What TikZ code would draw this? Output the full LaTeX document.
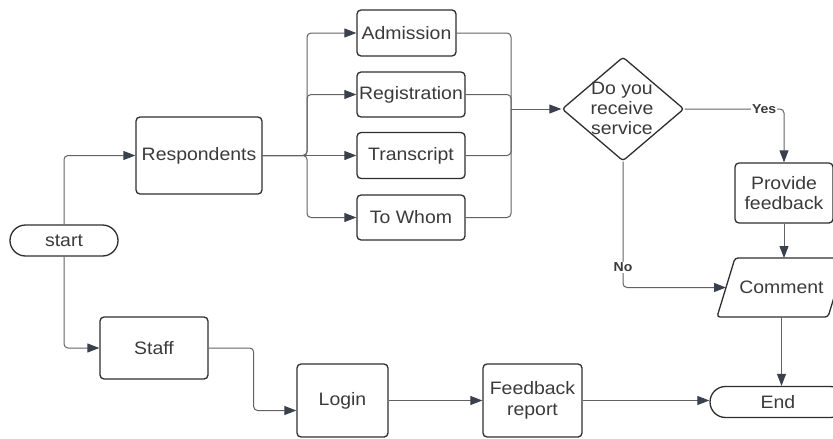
\documentclass[tikz,border=0pt]{standalone}
\usepackage{fontspec}
\setmainfont{Liberation Sans}[FakeStretch=1.08]
\usetikzlibrary{arrows.meta,shapes.geometric}
\definecolor{boxline}{HTML}{2E2E2E}
\definecolor{wire}{HTML}{626262}
\definecolor{tip}{HTML}{3A404C}
\definecolor{txt}{HTML}{3A3A3A}
\tikzset{
  box/.style={draw=boxline, line width=1.3pt, rounded corners=4pt, text=txt,
    align=center, inner sep=0pt, font=\fontsize{18}{20.5}\selectfont},
  term/.style={box, rounded corners=15.5pt},
  conn/.style={draw=wire, line width=1pt, rounded corners=4pt},
  arr/.style={conn, -{Triangle[length=12pt,width=9pt,color=tip]}},
  lbl/.style={fill=white, inner sep=1pt, text=txt, font=\bfseries\fontsize{13}{15}\selectfont}
}
\begin{document}
\begin{tikzpicture}[x=1pt,y=-1pt]
\useasboundingbox (0,0) rectangle (833,439);

% terminals
\node[term, minimum width=108pt, minimum height=31pt] (start) at (64,240.5) {start};
\node[term, minimum width=136pt, minimum height=31pt] (end) at (778,402) {End};

% respondent branch
\node[box, minimum width=126pt, minimum height=77pt] (resp) at (199,155.5) {\raisebox{3pt}{Respondents}};
\node[box, minimum width=99pt, minimum height=46pt] (adm) at (406.5,33) {Admission};
\node[box, minimum width=108pt, minimum height=45pt] (reg) at (411,94.5) {Registration};
\node[box, minimum width=108pt, minimum height=46pt] (trans) at (411,155.5) {Transcript};
\node[box, minimum width=108pt, minimum height=45pt] (whom) at (411,217.5) {To Whom};

% decision
\node[draw=boxline, line width=1.3pt, rounded corners=3pt, diamond,
      minimum width=122pt, minimum height=104pt, inner sep=0pt] (dia) at (623,109) {};
\node[align=center, text=txt, font=\fontsize{18}{20}\selectfont] (dtxt) at (622,108.5) {Do you\\receive\\service};

\node[box, minimum width=98pt, minimum height=60pt] (pf) at (784,193) {Provide\\feedback};

% comment: a parallelogram leaning right, drawn round its text node
\node[text=txt, font=\fontsize{18}{20.5}\selectfont, inner sep=0pt] (cmt) at (781.5,287.5) {Comment};
\coordinate (cmtnw) at (735,258);
\coordinate (cmtne) at (846,258);
\coordinate (cmtse) at (828,317);
\coordinate (cmtsw) at (717,317);
\coordinate (cmtw) at (726,287.5);
\coordinate (cmtn) at (781.5,258);
\coordinate (cmts) at (781.5,317);
\draw[draw=boxline, line width=1.3pt, rounded corners=3pt]
  (cmtnw) -- (cmtne) -- (cmtse) -- (cmtsw) -- cycle;

% staff branch
\node[box, minimum width=108pt, minimum height=62pt] (staff) at (154,348) {Staff};
\node[box, minimum width=91pt, minimum height=73pt] (login) at (342.5,400.5) {Login};
\node[box, minimum width=99pt, minimum height=73pt] (fbr) at (532.5,400.5) {Feedback\\report};

% connectors: start
\draw[arr] (start.north) |- (resp.west);
\draw[arr] (start.south) |- (staff.west);

% fan out from respondents
\coordinate (fan) at (307,155.5);
\draw[arr] (resp.east) -- (fan) |- (adm.west);
\draw[arr] (resp.east) -- (fan) |- (reg.west);
\draw[arr] (resp.east) -- (trans.west);
\draw[arr] (resp.east) -- (fan) |- (whom.west);

% merge into the decision
\coordinate (merge) at (511,109);
\draw[conn] (adm.east) -| (merge);
\draw[conn] (reg.east) -| (merge);
\draw[conn] (trans.east) -| (merge);
\draw[conn] (whom.east) -| (merge);
\draw[arr] (merge) -- (dia.west);

% decision outcomes
\draw[arr] (dia.east) -| node[lbl, pos=0.4] {Yes} (pf.north);
\draw[arr] (dia.south) |- node[lbl, pos=0.42] {No} (cmtw);
\draw[arr] (pf.south) -- (pf.south |- cmtn);
\draw[arr] (cmts) -- (cmts |- end.north);

% staff flow
\draw[arr] (staff.east) -- ++(45,0) |- ([yshift=-10pt]login.west);
\draw[arr] (login.east) -- (fbr.west);
\draw[arr] (fbr.east) -- (fbr.east -| end.west);
\end{tikzpicture}
\end{document}
